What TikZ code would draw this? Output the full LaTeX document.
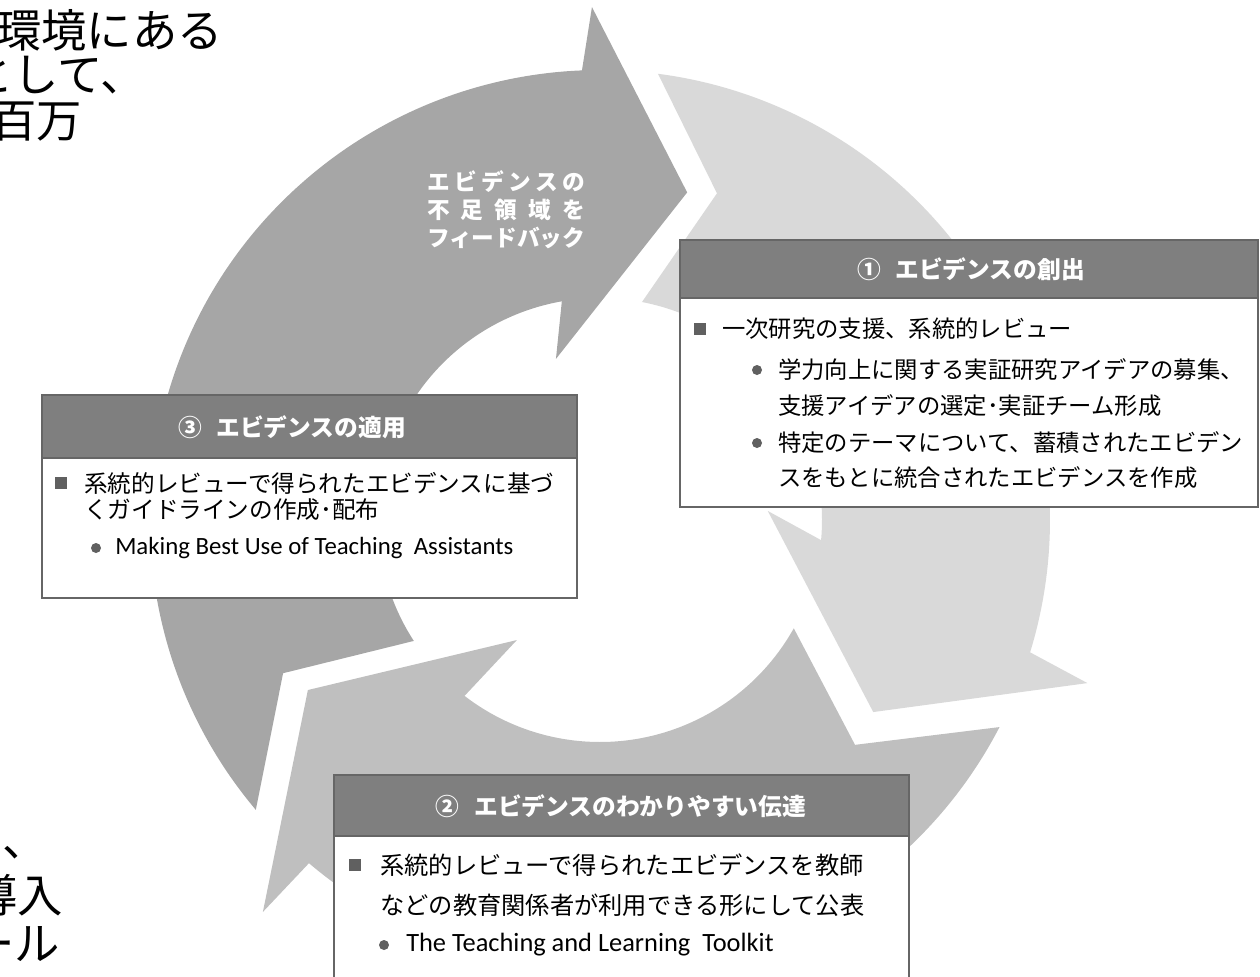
\documentclass[tikz,border=0pt]{standalone}
\usepackage{fontspec}
\setmainfont{Carlito}
\newfontfamily\jp{Noto Sans CJK JP}
\definecolor{arrD}{HTML}{A6A6A6}
\definecolor{arrL}{HTML}{D9D9D9}
\definecolor{arrM}{HTML}{BFBFBF}
\definecolor{hdr}{HTML}{7F7F7F}
\definecolor{edge}{HTML}{666666}
\definecolor{bul}{HTML}{606060}
\begin{document}
\begin{tikzpicture}[x=0.75pt,y=0.75pt,
  hdrbox/.style={draw=edge,line width=1.1pt,fill=hdr},
  bodybox/.style={draw=edge,line width=1.1pt,fill=white},
  ttl/.style={text=white,font=\jp\bfseries\fontsize{17.8}{21}\selectfont,inner sep=0pt},
  txt/.style={anchor=west,inner sep=0pt,font=\jp\fontsize{17.5}{21}\selectfont},
  txtb/.style={txt,font=\jp\fontsize{17.7}{21}\selectfont},
  txtc/.style={txt,font=\jp\fontsize{18.2}{22}\selectfont},
  lat/.style={anchor=west,inner sep=0pt,font=\fontsize{18.6}{22}\selectfont},
  latc/.style={lat,font=\fontsize{19.8}{23}\selectfont},
  sq/.style={fill=bul,minimum size=9.5pt,inner sep=0pt},
  dot/.style={circle,fill=bul,minimum size=7.5pt,inner sep=0pt},
  big/.style={inner sep=0pt,font=\jp\fontsize{34}{40}\selectfont},
  arrtxt/.style={text=white,font=\jp\bfseries\fontsize{17}{21}\selectfont,inner sep=0pt,align=center}
]
\useasboundingbox (0,0) rectangle (1260,-976);
\clip (0,0) rectangle (1260,-976);

% partial background texts
\node[big,anchor=east] (tl1) at (223,-30) {環境にある};
\node[big,anchor=east] (tl2) at (146,-75) {として、};
\node[big,anchor=east] (tl3) at (82,-122) {百万};
\node[big,anchor=west] (bl1) at (2,-853) {、};
\node[big,anchor=east] (bl2) at (63,-895) {導入};
\node[big,anchor=east] (bl3) at (60,-944) {ール};

% circular arrows
\begin{scope}[shift={(600,-520)}]
\fill[arrD] (220.1:450) arc[start angle=220.1,end angle=92.3,radius=450]
  -- (90.9:513) -- (75.1:339) -- (105.3:167) -- (99.9:222)
  arc[start angle=99.9,end angle=213,radius=222] -- (205.8:352) -- cycle;
\fill[arrL] (82.6:450) arc[start angle=82.6,end angle=-17.1,radius=450]
  -- (-18.5:514) -- (-35.1:334) -- (3.1:168) -- (-5.2:222)
  arc[start angle=-5.2,end angle=79.1,radius=222] -- (70.3:347) -- cycle;
\fill[arrM] (-27.4:450) arc[start angle=-27.4,end angle=-130.3,radius=450]
  -- (-130.7:517) -- (-149.8:338) -- (-124.7:146) -- (-127.6:222)
  arc[start angle=-127.6,end angle=-29.2,radius=222] -- (-41.4:340) -- cycle;
\end{scope}

\node[arrtxt] (fb) at (506,-210) {\makebox[118.5pt][s]{エ\hfill ビ\hfill デ\hfill ン\hfill ス\hfill の}\\
  \makebox[118.5pt][s]{不\hfill 足\hfill 領\hfill 域\hfill を}\\
  \makebox[118.5pt][s]{フィードバック}};

% box 1
\draw[bodybox] (680,-298) rectangle (1258,-507);
\draw[hdrbox] (680,-240) rectangle (1258,-298);
\node[ttl] (t1) at (971,-269) {①\hspace{11pt}エビデンスの創出};
\node[sq] (s11) at (700,-329) {};
\node[txt] (l11) at (722,-329) {一次研究の支援、系統的レビュー};
\node[dot] (d11) at (757,-370) {};
\node[txt] (l12) at (778,-370) {学力向上に関する実証研究アイデアの募集、};
\node[txt] (l13) at (778,-406) {支援アイデアの選定･実証チーム形成};
\node[dot] (d12) at (757,-443) {};
\node[txt] (l14) at (778,-443) {特定のテーマについて、蓄積されたエビデン};
\node[txt] (l15) at (778,-478) {スをもとに統合されたエビデンスを作成};

% box 3
\draw[bodybox] (42,-458) rectangle (577,-598);
\draw[hdrbox] (42,-395) rectangle (577,-458);
\node[ttl] (t3) at (292,-427) {③\hspace{11pt}エビデンスの適用};
\node[sq] (s31) at (61,-483) {};
\node[txtb] (l31) at (84,-483) {系統的レビューで得られたエビデンスに基づ};
\node[txtb] (l32) at (84,-510) {くガイドラインの作成･配布};
\node[dot] (d31) at (96,-548) {};
\node[lat] (l33) at (115,-548) {Making Best Use of Teaching\ \ Assistants};

% box 2
\draw[bodybox] (334,-836) rectangle (909,-990);
\draw[hdrbox] (334,-775) rectangle (909,-836);
\node[ttl] (t2) at (621,-806) {②\hspace{11pt}エビデンスのわかりやすい伝達};
\node[sq] (s21) at (355,-865) {};
\node[txtc] (l21) at (380,-865) {系統的レビューで得られたエビデンスを教師};
\node[txtc] (l22) at (380,-905) {などの教育関係者が利用できる形にして公表};
\node[dot] (d21) at (384,-945) {};
\node[latc] (l23) at (406,-945) {The Teaching and Learning\ \ Toolkit};
\end{tikzpicture}
\end{document}
